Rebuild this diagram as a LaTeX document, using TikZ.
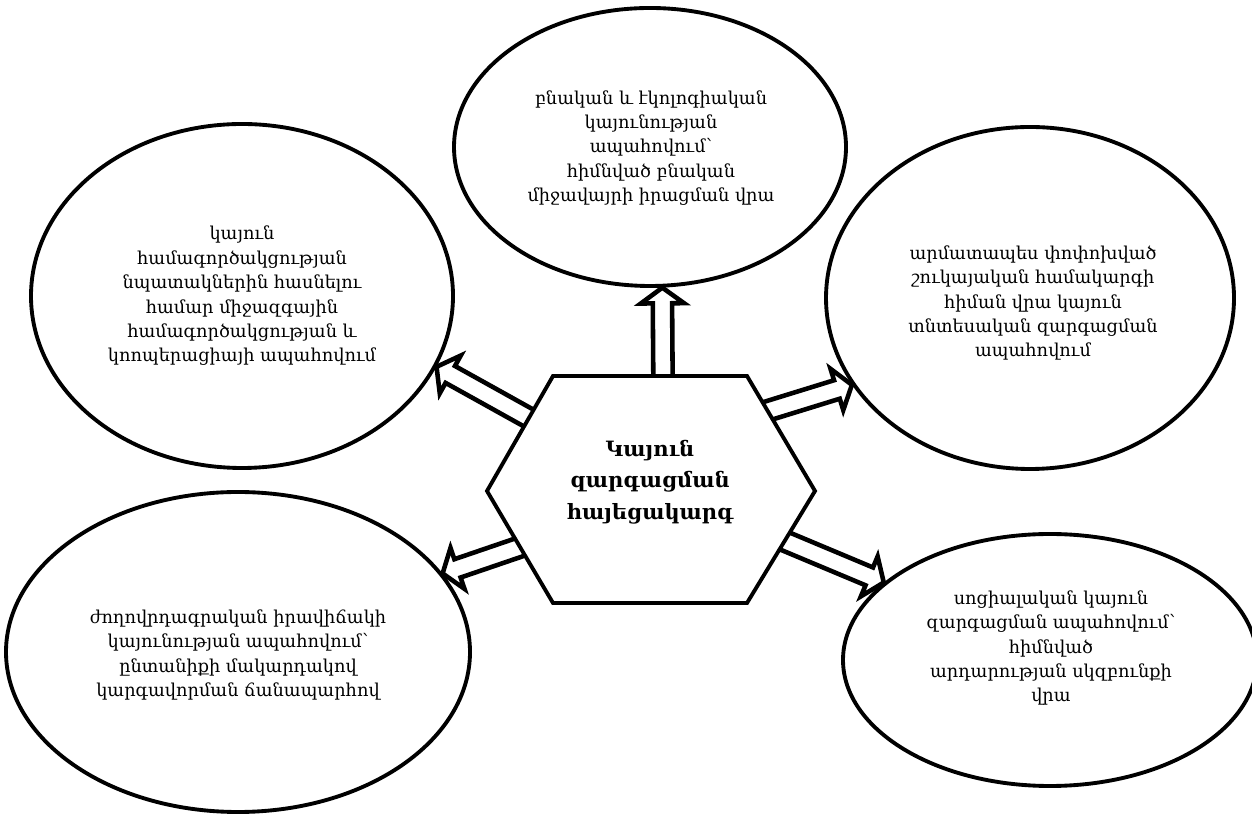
\documentclass[tikz,border=0pt]{standalone}
\usepackage{fontspec}
\setmainfont{DejaVu Serif}
\usetikzlibrary{shapes.geometric,shapes.arrows,calc}

\tikzset{
  oval/.style={draw, ellipse, line width=2.2pt, fill=white, inner sep=0pt},
  blurb/.style={align=center, font=\fontsize{10.1}{13.9}\selectfont},
  arrowbox/.style={draw, single arrow, fill=white, line width=2.6pt,
    inner xsep=0pt, inner ysep=4.2pt, outer sep=0pt, minimum width=1pt,
    single arrow head extend=6.8pt, single arrow tip angle=108},
  hollow/.style={to path={
    let \p1=($(\tikztotarget)-(\tikztostart)$),
        \n1={atan2(\y1,\x1)}, \n2={veclen(\x1,\y1)}
    in node[arrowbox, anchor=tail, rotate=\n1, minimum height=\n2] {}
    (\tikztotarget)}}
}

\begin{document}
\begin{tikzpicture}
  \useasboundingbox (0,0) rectangle (25.04,16.26);

  % the five goals
  \node[oval, minimum width=7.84cm, minimum height=5.56cm] (eT) at (13.0,13.32) {};
  \node[oval, minimum width=8.44cm, minimum height=6.88cm] (eL) at (4.84,10.34) {};
  \node[oval, minimum width=8.16cm, minimum height=6.84cm] (eR) at (20.6,10.3) {};
  \node[oval, minimum width=9.28cm, minimum height=6.4cm] (eBL) at (4.76,3.22) {};
  \node[oval, minimum width=8.28cm, minimum height=5.04cm] (eBR) at (21.0,3.06) {};

  \node[blurb] (tT) at (13.02,13.3)
    {բնական և էկոլոգիական\\կայունության\\ապահովում՝\\հիմնված բնական\\միջավայրի իրացման վրա};
  \node[blurb] (tL) at (4.84,10.34)
    {կայուն\\համագործակցության\\նպատակներին հասնելու\\համար միջազգային\\համագործակցության և\\կոոպերացիայի ապահովում};
  \node[blurb] (tR) at (20.66,10.2)
    {արմատապես փոփոխված\\շուկայական համակարգի\\հիման վրա կայուն\\տնտեսական զարգացման\\ապահովում};
  \node[blurb] (tBL) at (4.76,3.16)
    {ժողովրդագրական իրավիճակի\\կայունության ապահովում՝\\ընտանիքի մակարդակով\\կարգավորման ճանապարհով};
  \node[blurb] (tBR) at (21.02,3.3)
    {սոցիալական կայուն\\զարգացման ապահովում՝\\հիմնված\\արդարության սկզբունքի\\վրա};

  % arrows out of the hexagon
  \coordinate (aT) at (13.26,8.66);
  \coordinate (aUL) at (10.68,7.84);
  \coordinate (aUR) at (15.28,8.02);
  \coordinate (aLL) at (10.52,5.36);
  \coordinate (aLR) at (15.6,5.48);

  \draw[hollow] (aT) to (eT.-85);
  \draw[hollow] (aUL) to (eL.-20);
  \draw[hollow] (aUR) to (eR.206);
  \draw[hollow] (aLL) to (eBL.21);
  \draw[hollow] (aLR) to (eBR.155);

  \draw[line width=2.2pt, fill=white]
    (11.06,8.74) -- (14.94,8.74) -- (16.3,6.44) -- (14.94,4.2)
    -- (11.06,4.2) -- (9.74,6.44) -- cycle;
  \node[align=center, font=\bfseries\fontsize{12}{18}\selectfont] (core) at (13.0,6.62)
    {Կայուն\\զարգացման\\հայեցակարգ};
\end{tikzpicture}
\end{document}
